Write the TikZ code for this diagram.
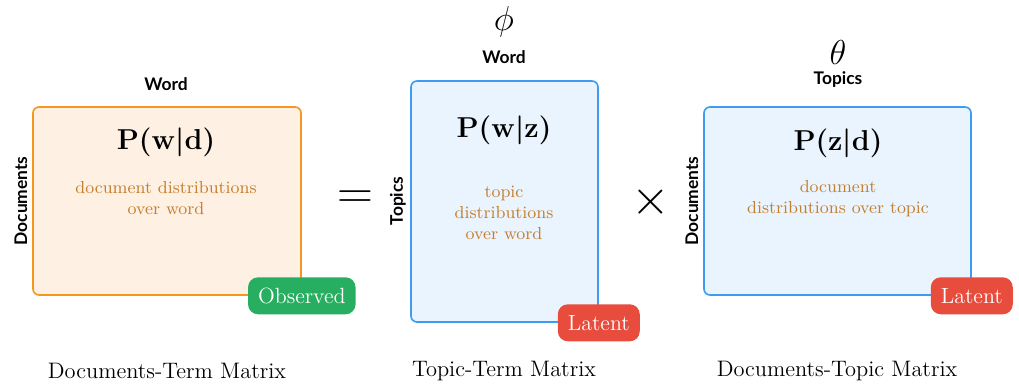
\documentclass[tikz,border=0pt]{standalone}
\usepackage{amsmath,amssymb}
\usepackage{fontspec}
\newfontfamily\axisfont{Lato}
\usepackage{xcolor}
\usepackage{tikz}
\usetikzlibrary{positioning}

\definecolor{obsorange}{HTML}{F5961E}
\definecolor{obsfill}{HTML}{FEF0E2}
\definecolor{latblue}{HTML}{3D9BF2}
\definecolor{latfill}{HTML}{EAF4FE}
\definecolor{descbrown}{HTML}{C47F2E}
\definecolor{badgegreen}{HTML}{27AE60}
\definecolor{badgered}{HTML}{E74C3C}

\tikzset{
  matbox/.style={draw,line width=0.8pt,rounded corners=3pt,inner sep=0pt},
  obsbox/.style={matbox,draw=obsorange,fill=obsfill},
  latbox/.style={matbox,draw=latblue,fill=latfill},
  badge/.style={rounded corners=5pt,text=white,inner xsep=5pt,inner ysep=0pt,
    minimum height=18.5pt,font=\fontsize{11}{13}\selectfont},
  axislabel/.style={font=\axisfont\bfseries\fontsize{8.7}{10}\selectfont,inner sep=0pt},
  formula/.style={font=\fontsize{14.2}{17}\selectfont\boldmath,inner sep=0pt},
  desc/.style={text=descbrown,align=center,font=\fontsize{8.7}{10.4}\selectfont,inner sep=0pt},
  caption/.style={font=\fontsize{11.2}{13}\selectfont,inner sep=0pt},
  bigop/.style={inner sep=0pt}
}

\begin{document}
\begin{tikzpicture}[x=0.5pt,y=-0.5pt]
  \useasboundingbox (0,0) rectangle (1019,385);
  % the three matrices
  \node[obsbox,minimum width=134pt,minimum height=94pt] (dtm) at (167,201) {};
  \node[latbox,minimum width=93.5pt,minimum height=120.5pt] (ttm) at (504.5,201.5) {};
  \node[latbox,minimum width=133.5pt,minimum height=94pt] (dtp) at (837.5,201) {};
  % formulas and descriptions
  \node[formula] (dtmf) at (166,142) {$\mathbf{P(w|d)}$};
  \node[desc] (dtmd) at (166,198) {document distributions\\over word};
  \node[formula] (ttmf) at (504,130) {$\mathbf{P(w|z)}$};
  \node[desc] (ttmd) at (504,213) {topic\\distributions\\over word};
  \node[formula] (dtpf) at (838,143) {$\mathbf{P(z|d)}$};
  \node[desc] (dtpd) at (838,199) {document\\distributions over topic};
  % axis labels
  \node[axislabel] (dtmtop) at (166,84) {Word};
  \node[axislabel,rotate=90] (dtmleft) at (21,201) {Documents};
  \node[axislabel] (ttmtop) at (504,57) {Word};
  \node[axislabel,rotate=90] (ttmleft) at (398,201) {Topics};
  \node[axislabel] (dtptop) at (838,80) {Topics};
  \node[axislabel,rotate=90] (dtpleft) at (692,201) {Documents};
  % parameter symbols
  \node[font=\fontsize{17}{20}\selectfont,inner sep=0pt] (phi) at (504,22) {$\phi$};
  \node[font=\fontsize{17}{20}\selectfont,inner sep=0pt] (theta) at (838,53) {$\theta$};
  % operators
  \node[bigop,font=\fontsize{28}{32}\selectfont] (eq) at (355,200) {$=$};
  \node[bigop,font=\fontsize{24}{28}\selectfont] (times) at (651,202) {$\times$};
  % badges
  \node[badge,fill=badgegreen] (obs) at (dtm.south east) {Observed};
  \node[badge,fill=badgered] (lat1) at (ttm.south east) {Latent};
  \node[badge,fill=badgered] (lat2) at (dtp.south east) {Latent};
  % captions
  \node[caption] (dtmc) at (167,371) {Documents-Term Matrix};
  \node[caption] (ttmc) at (504,371) {Topic-Term Matrix};
  \node[caption] (dtpc) at (837,371) {Documents-Topic Matrix};
\end{tikzpicture}
\end{document}
